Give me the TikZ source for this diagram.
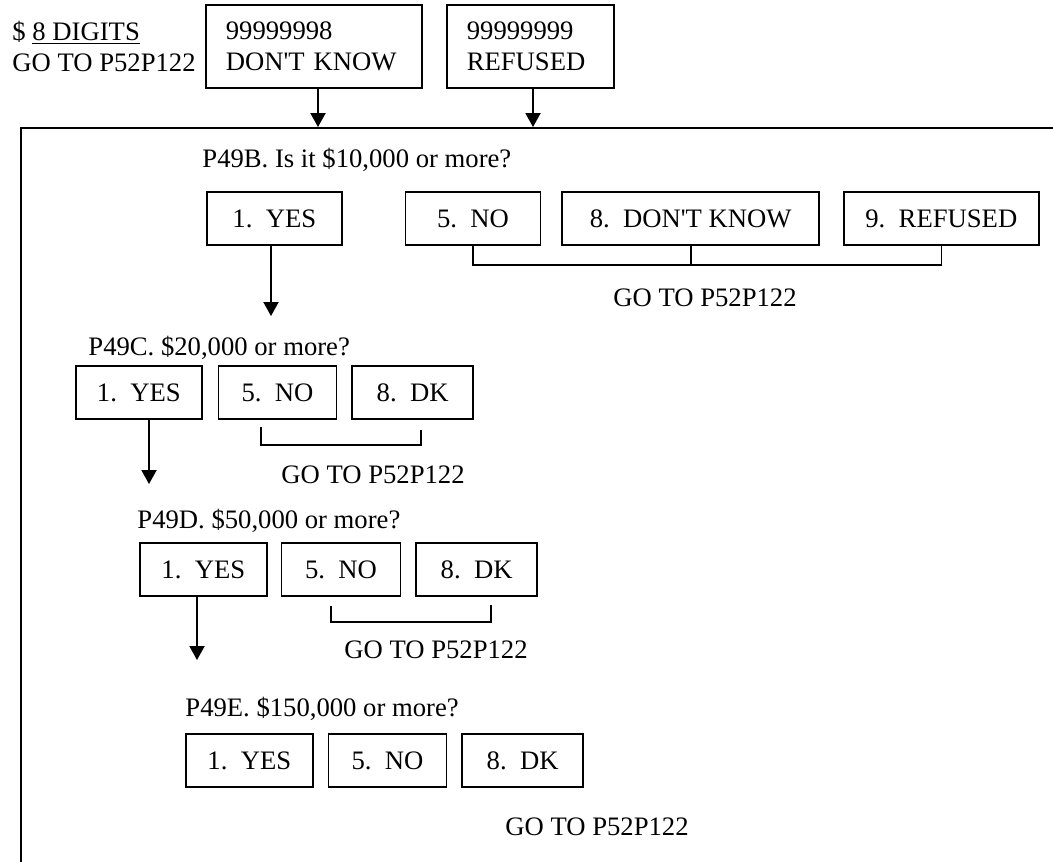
\documentclass[tikz,border=0pt]{standalone}
\usepackage{fontspec}
\setmainfont{Liberation Serif}
\usetikzlibrary{arrows.meta,positioning}

\begin{document}
\begin{tikzpicture}[x=0.45pt,y=-0.45pt,
  every node/.style={font=\fontsize{12pt}{14pt}\selectfont},
  lbl/.style={inner sep=0pt,anchor=base west},
  box/.style={draw,line width=0.75pt,minimum height=24pt,inner sep=0pt,anchor=north west},
  codebox/.style={draw,line width=0.75pt,minimum height=37.35pt,inner xsep=9pt,inner ysep=0pt,align=left,anchor=north west},
  line/.style={line width=0.75pt},
  arr/.style={line width=0.75pt,-{Triangle[length=6.3pt,width=6.8pt]}}]
\useasboundingbox (0,0) rectangle (1053,862);
\node[lbl] (dig) at (12,40) {\$ \underline{8 DIGITS}};
\node[lbl] (diggo) at (12,71) {GO TO P52P122};
\node[codebox,text width=79.2pt] (dk) at (205,4) {99999998\\DON\textquotesingle T KNOW};
\node[codebox,text width=57.15pt] (ref) at (446,4) {99999999\\REFUSED};
\coordinate (dk_tip) at (318,127);
\coordinate (ref_tip) at (533,127);
\draw[arr] (dk.south -| dk_tip) -- (dk_tip);
\draw[arr] (ref.south -| ref_tip) -- (ref_tip);
\draw[line] (1053,128) -- (21,128) -- (21,862);

\node[lbl] (qb) at (202,167) {P49B. Is it \$10,000 or more?};
\node[box,minimum width=60.75pt] (b_yes) at (206,191) {1.\ \ YES};
\node[box,minimum width=60.75pt,right=27.9pt of b_yes] (b_no) {5.\ \ NO};
\node[box,minimum width=115.65pt,right=9pt of b_no] (b_dk) {8.\ \ DON\textquotesingle T KNOW};
\node[box,minimum width=87.75pt,right=10.35pt of b_dk] (b_ref) {9.\ \ REFUSED};
\coordinate (b_tip) at (271,316);
\draw[arr] (b_yes.south -| b_tip) -- (b_tip);
\draw[line] (b_no.south) -- ++(0,19) -| (b_ref.south);
\draw[line] (b_dk.south) -- ++(0,19);
\node[lbl] (b_go) at (613,306) {GO TO P52P122};

\node[lbl] (qc) at (88,355) {P49C. \$20,000 or more?};
\node[box,minimum width=56.7pt] (c_yes) at (75,365) {1.\ \ YES};
\node[box,minimum width=53.1pt,right=6.75pt of c_yes] (c_no) {5.\ \ NO};
\node[box,minimum width=54.45pt,right=6.3pt of c_no] (c_dk) {8.\ \ DK};
\coordinate (c_tip) at (149,484);
\draw[arr] (c_yes.south -| c_tip) -- (c_tip);
\coordinate (c_l) at (261,427);
\coordinate (c_r) at (421,445);
\draw[line] (c_l) |- (c_r) -- ++(0,-15);
\node[lbl] (c_go) at (281,483) {GO TO P52P122};

\node[lbl] (qd) at (137,528) {P49D. \$50,000 or more?};
\node[box,minimum width=57.15pt] (d_yes) at (139,542) {1.\ \ YES};
\node[box,minimum width=53.55pt,right=5.85pt of d_yes] (d_no) {5.\ \ NO};
\node[box,minimum width=54.45pt,right=6.3pt of d_no] (d_dk) {8.\ \ DK};
\coordinate (d_tip) at (197,660);
\draw[arr] (d_yes.south -| d_tip) -- (d_tip);
\coordinate (d_l) at (331,606);
\coordinate (d_r) at (491,622);
\draw[line] (d_l) |- (d_r) -- ++(0,-17);
\node[lbl] (d_go) at (344,658) {GO TO P52P122};

\node[lbl] (qe) at (185,716) {P49E. \$150,000 or more?};
\node[box,minimum width=57.15pt] (e_yes) at (185,733) {1.\ \ YES};
\node[box,minimum width=53.1pt,right=6.3pt of e_yes] (e_no) {5.\ \ NO};
\node[box,minimum width=54.45pt,right=6.3pt of e_no] (e_dk) {8.\ \ DK};
\node[lbl] (e_go) at (505,835) {GO TO P52P122};
\end{tikzpicture}
\end{document}
